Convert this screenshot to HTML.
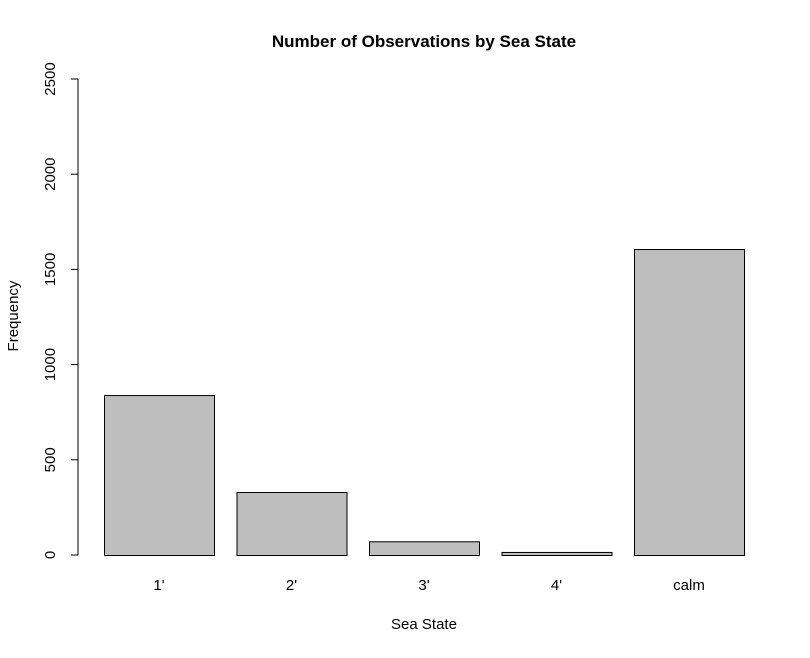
<!DOCTYPE html>
<html><head><meta charset="utf-8"><style>
body{margin:0;background:#fff}
svg text{font-family:"Liberation Sans",Arial,sans-serif;fill:#000}
</style></head><body>
<svg id="chart" width="810" height="653" viewBox="0 0 810 653" xmlns="http://www.w3.org/2000/svg">
<rect width="810" height="653" fill="#fff"/>
<text x="424" y="47" text-anchor="middle" font-size="17" font-weight="bold">Number of Observations by Sea State</text>
<text x="424" y="629" text-anchor="middle" font-size="15">Sea State</text>
<text transform="translate(18,316) rotate(-90)" text-anchor="middle" font-size="15">Frequency</text>
<g id="yaxis"></g>
<g id="bars"></g>
<g id="xlabels"></g>
</svg>
<script>
const categories = ["1'", "2'", "3'", "4'", "calm"];
const counts = [840, 331, 72, 16, 1607];
const yTicks = [0, 500, 1000, 1500, 2000, 2500];
const NS = "http://www.w3.org/2000/svg";
const y0 = 555, yMax = 2500, yTop = 79;
function yScale(v){ return y0 - v / yMax * (y0 - yTop); }
function xLeft(i){ return 104 + i * 132.5; }
const barW = 110;
function mk(tag, attrs, parent){ const e = document.createElementNS(NS, tag); for (const k in attrs) e.setAttribute(k, attrs[k]); parent.appendChild(e); return e; }
const ya = document.getElementById('yaxis');
const axisLine = mk('line', {x1:78, x2:78, y1:yScale(0), y2:yScale(yTicks[yTicks.length-1]), stroke:'#000'}, ya);


yTicks.forEach(t => {
  const y = yScale(t);
  const tk = mk('line', {x1:71, x2:78, y1:y, y2:y, stroke:'#000'}, ya);
  
  
  const lb = mk('text', {transform:`translate(55,${y}) rotate(-90)`, 'text-anchor':'middle', 'font-size':'15'}, ya);
  lb.textContent = t;
  
  
});
const bg = document.getElementById('bars');
const xl = document.getElementById('xlabels');
categories.forEach((c, i) => {
  const top = yScale(counts[i]);
  const r = mk('rect', {x:xLeft(i)+0.5, y:top+0.5, width:barW, height:yScale(0)-top, fill:'#bebebe', stroke:'#000'}, bg);
  
  
  const t = mk('text', {x:xLeft(i)+barW/2, y:590, 'text-anchor':'middle', 'font-size':'15'}, xl);
  t.textContent = c;
  
  
});
</script>
</body></html>
